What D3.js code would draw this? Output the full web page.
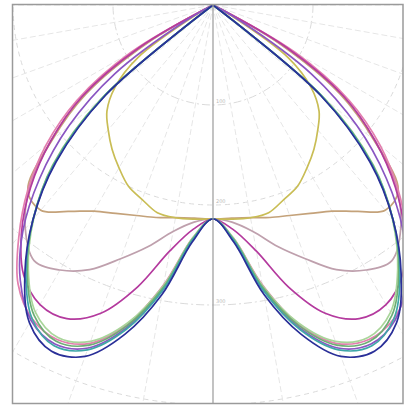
<!DOCTYPE html>
<html lang="en">
<head>
    <meta charset="UTF-8">
    <title>Polar intensity curves</title>
    <script src="https://d3js.org/d3.v7.min.js"></script>
    <style>
        body { margin: 0; background: #fff; }
    </style>
</head>
<body>
    <svg width="406" height="407"></svg>
    <script>
        // half-plane angles (deg from nadir), curves are mirrored
        const angles = [0, 5, 10, 15, 20, 25, 30, 35, 40, 45, 50, 55, 60, 65, 70, 75, 80, 85, 90];

        const navy       = [214, 238, 294, 341, 374, 382, 367, 328, 280, 222, 140, 0, 0, 0, 0, 0, 0, 0, 0];
        const teal       = [214, 236, 290, 336, 367, 376, 362, 326, 280, 224, 142, 0, 0, 0, 0, 0, 0, 0, 0];
        const green      = [214, 235, 287, 332, 362, 371, 358, 324, 280, 226, 144, 0, 0, 0, 0, 0, 0, 0, 0];
        const lightGreen = [214, 234, 285, 329, 358, 367, 355, 322, 279, 227, 146, 0, 0, 0, 0, 0, 0, 0, 0];
        const purple     = [214, 236, 288, 334, 365, 374, 364, 336, 296, 245, 188, 120, 30, 0, 0, 0, 0, 0, 0];
        const pink       = [214, 234, 284, 330, 360, 369, 362, 340, 302, 262, 218, 166, 95, 0, 0, 0, 0, 0, 0];
        const magenta    = [214, 225, 250, 292, 328, 346, 346, 330, 298, 258, 212, 160, 85, 0, 0, 0, 0, 0, 0];
        const mauve      = [214, 218, 230, 250, 270, 292, 306, 312, 292, 260, 212, 158, 80, 0, 0, 0, 0, 0, 0];
        const tan        = [214, 214, 216, 220, 224, 230, 238, 252, 268, 262, 210, 155, 75, 0, 0, 0, 0, 0, 0];
        const yellow     = [214, 215, 216, 215, 207, 200, 188, 176, 163, 150, 128, 92, 20, 0, 0, 0, 0, 0, 0];

        const rings = [100, 200, 300, 400, 500];
        const spokes = [-90, -80, -70, -60, -50, -40, -30, -20, -10, 10, 20, 30, 40, 50, 60, 70, 80, 90];

        const series = [
            {name: 'mauve', values: mauve, color: '#bfa0ad'},
            {name: 'tan', values: tan, color: '#c4a27a'},
            {name: 'yellow', values: yellow, color: '#c9bd55'},
            {name: 'pink', values: pink, color: '#e37fae'},
            {name: 'magenta', values: magenta, color: '#b43a9e'},
            {name: 'purple', values: purple, color: '#8a56c2'},
            {name: 'lightGreen', values: lightGreen, color: '#a9d59a'},
            {name: 'green', values: green, color: '#6dae74'},
            {name: 'teal', values: teal, color: '#3fa7a8'},
            {name: 'navy', values: navy, color: '#2a2f98'}
        ];

        const frame = {x: 12.5, y: 4.5, w: 390.5, h: 399};
        const cx = 213, cy = 5;

        const svg = d3.select('svg');
        const r = d3.scaleLinear().domain([0, 500]).range([0, 500]);
        const rad = d => d * Math.PI / 180;

        svg.append('defs').append('clipPath').attr('id', 'clip')
            .append('rect')
            .attr('x', frame.x).attr('y', frame.y)
            .attr('width', frame.w).attr('height', frame.h);

        const plot = svg.append('g').attr('clip-path', 'url(#clip)');
        const g = plot.append('g').attr('transform', `translate(${cx},${cy})`);

        // grid
        g.selectAll('.ring').data(rings).enter()
            .append('circle')
            .attr('r', d => r(d))
            .attr('fill', 'none')
            .attr('stroke', '#dadada')
            .attr('stroke-width', 1)
            .attr('stroke-dasharray', (d, i) => i % 2 ? '5,4' : '8,3,2,3');

        g.selectAll('.spoke').data(spokes).enter()
            .append('line')
            .attr('x1', 0).attr('y1', 0)
            .attr('x2', d => r(600) * Math.sin(rad(d)))
            .attr('y2', d => r(600) * Math.cos(rad(d)))
            .attr('stroke', '#e6e6e6')
            .attr('stroke-width', 1)
            .attr('stroke-dasharray', '6,3');

        // ring labels along the 0 line
        g.selectAll('.lbl').data(rings.filter(d => r(d) < 380)).enter()
            .append('text')
            .attr('x', 3)
            .attr('y', d => r(d) - 2)
            .attr('font-family', 'DejaVu Sans, sans-serif')
            .attr('font-size', 5)
            .attr('fill', '#bbb')
            .text(d => d);

        // centre line
        plot.append('line')
            .attr('x1', cx).attr('x2', cx)
            .attr('y1', frame.y).attr('y2', frame.y + frame.h)
            .attr('stroke', '#9a9a9a')
            .attr('stroke-width', 1.2);

        const line = d3.lineRadial()
            .angle(d => Math.PI - rad(d.a))
            .radius(d => r(d.v))
            .curve(d3.curveCatmullRom.alpha(0.5));

        function mirror(vals) {
            const pts = [];
            for (let i = angles.length - 1; i > 0; i--) pts.push({a: -angles[i], v: vals[i]});
            for (let i = 0; i < angles.length; i++) pts.push({a: angles[i], v: vals[i]});
            // drop the zero run so the curve closes cleanly at the centre
            return pts.filter((p, i) => p.v > 0 || (pts[i - 1] && pts[i - 1].v > 0) || (pts[i + 1] && pts[i + 1].v > 0));
        }

        g.selectAll('.curve').data(series).enter()
            .append('path')
            .attr('d', d => line(mirror(d.values)))
            .attr('fill', 'none')
            .attr('stroke', d => d.color)
            .attr('stroke-width', 1.7);

        svg.append('rect')
            .attr('x', frame.x).attr('y', frame.y)
            .attr('width', frame.w).attr('height', frame.h)
            .attr('fill', 'none')
            .attr('stroke', '#9a9a9a')
            .attr('stroke-width', 1.5);
    </script>
</body>
</html>
